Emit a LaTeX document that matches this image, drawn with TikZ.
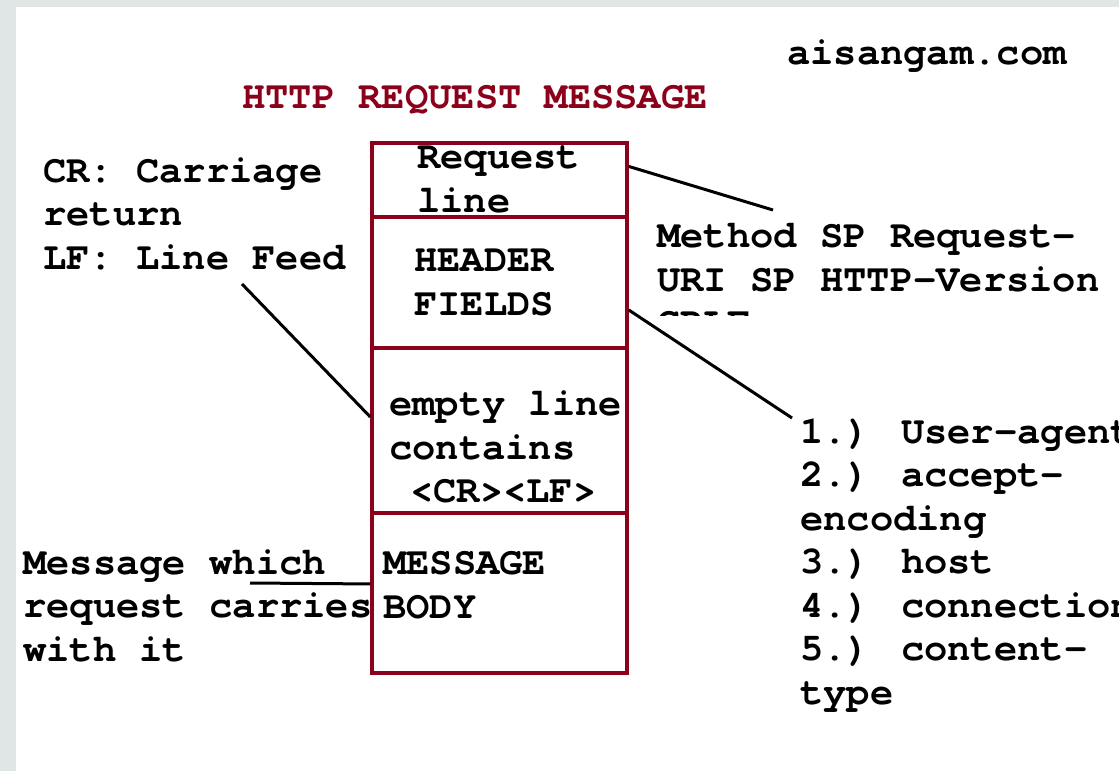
\documentclass[tikz,border=0pt]{standalone}
\usepackage{fontspec}
\setmainfont{TeX Gyre Cursor}
\usetikzlibrary{positioning}
\definecolor{boxred}{RGB}{139,0,26}
\definecolor{framegray}{RGB}{224,230,230}

\begin{document}
\begin{tikzpicture}[x=1pt,y=-1pt,
    txt/.style={anchor=base west,inner sep=0pt,align=left,
      font=\fontsize{38.8}{43.5}\selectfont\bfseries},
    part/.style={draw=boxred,line width=3.5pt,minimum width=255pt,inner sep=0pt},
    lead/.style={line width=3pt}]
        \fill[framegray] (0,0) rectangle (1119,771);
        \fill[white] (16,7) rectangle (1119,771);
        \useasboundingbox (0,0) rectangle (1119,771);

        \node[txt] (site) at (787,64) {aisangam.com};
        \node[txt,text=boxred] (title) at (242,108) {HTTP REQUEST MESSAGE};

        % the request message, part by part
        \node[part,minimum height=74pt] (reqline) at (499.5,180) {};
        \node[part,minimum height=131pt] (header) at (499.5,282.5) {};
        \node[part,minimum height=165pt] (emptyline) at (499.5,430.5) {};
        \node[part,minimum height=160pt] (body) at (499.5,593) {};

        % (base of a text with more lines = its last line)
        \node[txt] (reqtext) at (417,212) {Request\\line};
        \node[txt] (headtext) at (414,315) {HEADER\\FIELDS};
        \node[txt] (emptytext) at (389,459) {empty line\\contains};
        \node[txt] (crlftext) at (410,502) {<CR><LF>};
        \node[txt] (bodytext) at (383,618) {MESSAGE\\BODY};

        % notes round it
        \node[txt] (crlf) at (43,269) {CR: Carriage\\return\\LF: Line Feed};
        \node[txt] (carries) at (23,661) {Message which\\request carries\\with it};
        \node[txt] (method) at (657,291) {Method SP Request-\\URI SP HTTP-Version};
        \begin{scope}
            \clip (650,309) rectangle (780,315);
            \node[txt] (crlfend) at (657,334) {CRLF};
        \end{scope}
        \node[txt] (fields) at (800,704) {1.) User-agent\\2.) accept-\\encoding\\3.) host\\4.) connection\\5.) content-\\type};

        \coordinate (methodtip) at (773,210);
        \coordinate (fieldtip) at (792,418);
        \coordinate (lftip) at (242,284);
        \coordinate (msgtip) at (250,583);
        \draw[lead] (reqline.6) -- (methodtip);
        \draw[lead] (header.-12) -- (fieldtip);
        \draw[lead] (lftip) -- (emptyline.174);
        \draw[lead] (msgtip) -- (body.176);
    \end{tikzpicture}
\end{document}
